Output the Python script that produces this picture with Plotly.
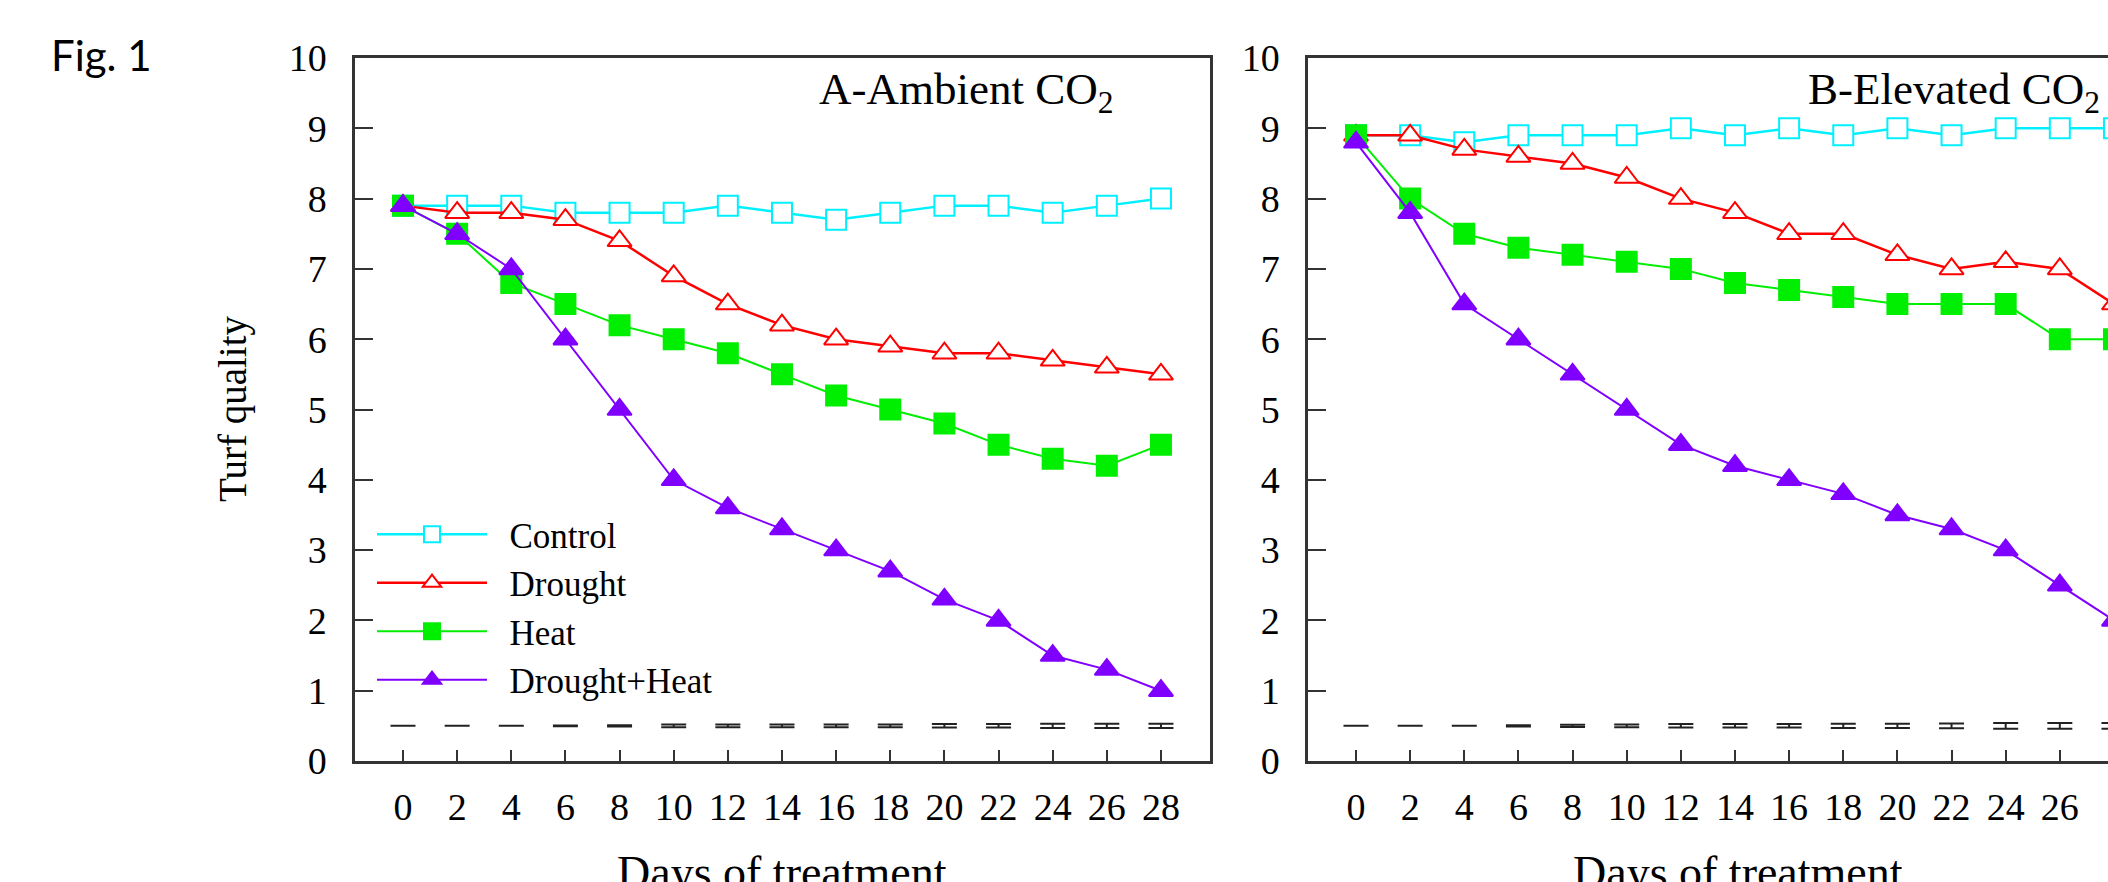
import plotly.graph_objects as go

W, H = 2108, 882

days = [0, 2, 4, 6, 8, 10, 12, 14, 16, 18, 20, 22, 24, 26, 28]
series_names = ["Control", "Drought", "Heat", "Drought+Heat"]

# Panel A - Ambient CO2
amb_control = [7.9, 7.9, 7.9, 7.8, 7.8, 7.8, 7.9, 7.8, 7.7, 7.8, 7.9, 7.9, 7.8, 7.9, 8.0]
amb_drought = [7.9, 7.8, 7.8, 7.7, 7.4, 6.9, 6.5, 6.2, 6.0, 5.9, 5.8, 5.8, 5.7, 5.6, 5.5]
amb_heat = [7.9, 7.5, 6.8, 6.5, 6.2, 6.0, 5.8, 5.5, 5.2, 5.0, 4.8, 4.5, 4.3, 4.2, 4.5]
amb_dh = [7.9, 7.5, 7.0, 6.0, 5.0, 4.0, 3.6, 3.3, 3.0, 2.7, 2.3, 2.0, 1.5, 1.3, 1.0]
amb_lsd_y = [0.5] * 15
amb_lsd_err = [0, 0, 0, 0.005, 0.01, 0.02, 0.02, 0.02, 0.02, 0.02, 0.025, 0.025, 0.03, 0.03, 0.03]

# Panel B - Elevated CO2
ele_control = [8.9, 8.9, 8.8, 8.9, 8.9, 8.9, 9.0, 8.9, 9.0, 8.9, 9.0, 8.9, 9.0, 9.0, 9.0]
ele_drought = [8.9, 8.9, 8.7, 8.6, 8.5, 8.3, 8.0, 7.8, 7.5, 7.5, 7.2, 7.0, 7.1, 7.0, 6.5]
ele_heat = [8.9, 8.0, 7.5, 7.3, 7.2, 7.1, 7.0, 6.8, 6.7, 6.6, 6.5, 6.5, 6.5, 6.0, 6.0]
ele_dh = [8.8, 7.8, 6.5, 6.0, 5.5, 5.0, 4.5, 4.2, 4.0, 3.8, 3.5, 3.3, 3.0, 2.5, 2.0]
ele_lsd_y = [0.5] * 15
ele_lsd_err = [0, 0, 0, 0.01, 0.015, 0.02, 0.025, 0.025, 0.025, 0.03, 0.03, 0.035, 0.04, 0.04, 0.04]

y_ticks = [0, 1, 2, 3, 4, 5, 6, 7, 8, 9, 10]

styles = [
    dict(color="#00F0FF", symbol="square", fill="white", lw=2.5),
    dict(color="#FF0000", symbol="triangle-up", fill="white", lw=2.5),
    dict(color="#00EE00", symbol="square", fill="#00EE00", lw=2),
    dict(color="#7F00FF", symbol="triangle-up", fill="#7F00FF", lw=2),
]
sizes = [20, 21, 20, 21]

fig = go.Figure()

NBSP = "\u00a0"

def add_panel(xa, ya, data, lsd_y, lsd_err, show):
    for name, vals, st, sz in zip(series_names, data, styles, sizes):
        fig.add_trace(go.Scatter(
            x=days, y=vals, name=NBSP * 2 + name, mode="lines+markers",
            xaxis=xa, yaxis=ya, showlegend=show,
            line=dict(color=st["color"], width=st["lw"]),
            marker=dict(symbol=st["symbol"], size=sz, color=st["fill"],
                        line=dict(color=st["color"], width=2)),
        ))
    fig.add_trace(go.Scatter(
        x=days, y=lsd_y, mode="markers", xaxis=xa, yaxis=ya, showlegend=False,
        marker=dict(size=1, color="rgba(0,0,0,0)"),
        error_y=dict(type="data", array=lsd_err, visible=True,
                     color="#222222", thickness=2, width=12.5),
    ))

add_panel("x", "y", [amb_control, amb_drought, amb_heat, amb_dh], amb_lsd_y, amb_lsd_err, True)
add_panel("x2", "y2", [ele_control, ele_drought, ele_heat, ele_dh], ele_lsd_y, ele_lsd_err, False)

serif = "Liberation Serif, Times New Roman, serif"
px_per_day = 27.07
x0_a, x0_b = 403, 1356
ax_a_left, ax_a_right = 355, 1210
ax_b_left, ax_b_right = 1308, 2108
y_top, y_bot = 58, 761

def xrange_for(x0, left, right):
    return [(left - x0) / px_per_day, (right - x0) / px_per_day]

common_x = dict(
    tickmode="array", tickvals=days, ticktext=[str(d) for d in days],
    ticks="inside", ticklen=11, tickwidth=2, tickcolor="#333333",
    showline=True, linecolor="#333333", linewidth=2.5,
    showgrid=False, zeroline=False, automargin=False,
    tickfont=dict(family=serif, size=38, color="black"),
    ticklabelstandoff=11,
)
common_y = dict(
    range=[0, 10], tickmode="array", tickvals=y_ticks,
    ticks="inside", ticklen=18, tickwidth=2, tickcolor="#333333",
    showline=True, linecolor="#333333", linewidth=2.5,
    showgrid=False, zeroline=False, automargin=False,
    tickfont=dict(family=serif, size=38, color="black"),
    ticklabelstandoff=18,
)

ydom = [1 - y_bot / H, 1 - y_top / H]

fig.update_layout(
    width=W, height=H,
    margin=dict(l=0, r=0, t=0, b=0, autoexpand=False),
    paper_bgcolor="white", plot_bgcolor="white",
    xaxis=dict(domain=[ax_a_left / W, ax_a_right / W],
               range=xrange_for(x0_a, ax_a_left, ax_a_right), mirror=True, anchor="y", **common_x),
    yaxis=dict(domain=ydom, mirror=True, anchor="x", **common_y),
    xaxis2=dict(domain=[ax_b_left / W, 1.0],
                range=xrange_for(x0_b, ax_b_left, ax_b_right), mirror=True, anchor="y2", **common_x),
    yaxis2=dict(domain=ydom, mirror=False, anchor="x2", **common_y),
    legend=dict(
        x=372 / W, xanchor="left", y=1 - 505 / H, yanchor="top",
        bgcolor="rgba(0,0,0,0)", font=dict(family=serif, size=35, color="black"),
        itemwidth=110, tracegroupgap=0,
    ),
    showlegend=True,
)

annotations = [
    dict(text="Fig. 1", x=49 / W, y=1 - 28 / H, xref="paper", yref="paper",
         xanchor="left", yanchor="top", showarrow=False,
         font=dict(family="Lato, Carlito, sans-serif", size=42, color="black")),
    dict(text="A-Ambient CO<sub>2</sub>", x=817 / W, y=1 - 62 / H, xref="paper", yref="paper",
         xanchor="left", yanchor="top", showarrow=False,
         font=dict(family=serif, size=45, color="black")),
    dict(text="B-Elevated CO<sub>2</sub>", x=1806 / W, y=1 - 62 / H, xref="paper", yref="paper",
         xanchor="left", yanchor="top", showarrow=False,
         font=dict(family=serif, size=45, color="black")),
    dict(text="Turf quality", x=233 / W, y=1 - 409 / H, xref="paper", yref="paper",
         xanchor="center", yanchor="middle", textangle=-90, showarrow=False,
         font=dict(family=serif, size=39, color="black")),
    dict(text="Days of treatment", x=782 / W, y=1 - 845 / H, xref="paper", yref="paper",
         xanchor="center", yanchor="top", showarrow=False,
         font=dict(family=serif, size=46, color="black")),
    dict(text="Days of treatment", x=1738 / W, y=1 - 845 / H, xref="paper", yref="paper",
         xanchor="center", yanchor="top", showarrow=False,
         font=dict(family=serif, size=46, color="black")),
]
fig.update_layout(annotations=annotations)

fig.write_html("out.html")
